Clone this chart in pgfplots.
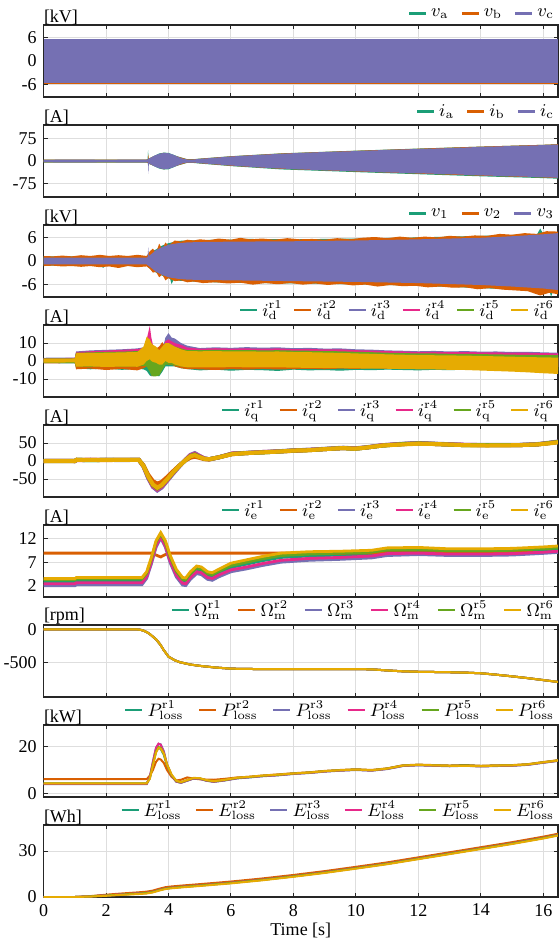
\documentclass[border=0pt]{standalone}
\usepackage[no-math]{fontspec}
\setmainfont{Liberation Serif}
\usepackage{pgfplots}
\pgfplotsset{compat=1.18}
\usepackage{pgfplotstable}
\usepgfplotslibrary{fillbetween}

\definecolor{c1}{HTML}{1B9E77}
\definecolor{c2}{HTML}{D95F02}
\definecolor{c3}{HTML}{7570B3}
\definecolor{c4}{HTML}{E7298A}
\definecolor{c5}{HTML}{66A61E}
\definecolor{c6}{HTML}{E6AB02}

\newcommand{\fs}{\fontsize{9}{10}\selectfont}

\pgfplotsset{
  panel/.style={
    width=257.2pt, height=36pt, scale only axis,
    xmin=0, xmax=16.47,
    xtick={0,2,4,6,8,10,12,14,16},
    xticklabels={},
    grid=major,
    major grid style={line width=0.5pt, draw=black!13},
    tick align=inside,
    major tick length=2.2pt,
    tick style={black!85, line width=0.5pt},
    axis line style={black!85, line width=0.6pt},
    tick label style={font=\fs},
    legend style={draw=none, fill=none, at={(1,1)}, anchor=south east,
      inner sep=0pt, outer sep=0pt, font=\fs, yshift=1pt},
    legend columns=-1,
    legend image code/.code={\draw[##1, line width=1.2pt] (0pt,0pt) -- (8.5pt,0pt);},
  },
  sep/.style={legend style={/tikz/every even column/.append style={column sep=#1}}},
}

% ---------------- data ----------------
\pgfplotstableread{
t gu gl ou ol pu pl ku kl hu hl yu yl
0 1.3 -1.2 1.2 -1.3 1.8 -0.6 1.6 -0.6 1.4 -1.0 1.3 -0.9
1.0 1.4 -1.3 1.3 -1.2 1.9 -0.5 1.7 -0.6 1.5 -1.1 1.4 -0.8
1.04 4.0 -4.0 3.8 -4.6 5.3 -1.8 5.0 -1.6 4.6 -3.0 4.3 -3.1
1.5 4.3 -4.6 4.0 -4.2 5.9 -1.6 5.4 -1.5 4.8 -3.2 4.5 -3.0
2.0 4.1 -4.2 4.2 -5.0 6.2 -1.8 5.8 -1.6 5.0 -2.8 4.6 -3.3
2.5 4.5 -4.9 4.1 -4.4 6.5 -1.5 6.2 -1.7 5.2 -3.1 4.8 -3.1
3.0 4.6 -4.5 4.4 -5.2 7.0 -1.8 6.6 -1.6 5.5 -3.0 5.0 -3.2
3.2 5.0 -4.6 4.8 -4.0 7.6 -1.5 7.2 -1.4 6.0 -2.8 8.0 -2.0
3.3 6.5 -5.5 6.0 -3.0 11.0 0.0 12.0 0.5 9.0 -3.0 13.5 0.0
3.4 6.0 -8.0 7.0 -3.0 10.0 -4.0 19.5 -2.0 8.0 -6.0 12.0 1.0
3.45 5.0 -8.5 8.0 -2.0 9.0 -6.0 13.0 -8.0 7.0 -8.0 10.0 0.0
3.5 4.0 -8.0 8.5 -1.5 7.0 -6.5 9.0 -8.5 5.0 -8.5 9.0 -0.5
3.6 2.0 -8.2 7.0 -1.0 4.0 -6.0 6.0 -6.0 3.0 -8.5 8.0 -1.0
3.7 0.0 -8.5 8.0 1.0 0.0 -5.0 2.0 -4.0 2.0 -8.0 6.0 -2.0
3.8 3.0 -6.0 10.5 2.0 6.0 -3.0 6.0 -3.0 4.0 -5.0 8.0 -2.0
3.9 8.0 -3.0 8.0 0.0 13.0 0.0 11.0 0.0 9.0 -2.0 10.0 0.0
4.0 9.0 -3.0 7.0 -2.0 15.5 1.0 12.0 0.0 10.0 -2.0 10.0 -1.0
4.1 8.0 -3.0 6.0 -2.0 13.0 0.0 11.0 0.0 9.0 -2.0 9.0 -1.0
4.2 7.0 -3.0 8.0 -3.0 12.5 -1.0 10.0 -1.0 8.0 -2.5 8.0 -2.0
4.4 5.5 -4.0 5.0 -4.0 10.0 -2.0 9.0 -2.0 7.0 -3.0 6.5 -3.0
4.6 4.5 -4.5 4.0 -4.5 8.5 -2.0 7.5 -2.0 6.0 -3.5 5.5 -3.5
5.0 4.2 -5.2 4.3 -4.6 7.2 -1.6 6.8 -1.8 6.0 -3.2 5.4 -3.5
5.5 4.5 -4.8 4.0 -5.0 7.6 -1.8 7.1 -1.6 6.2 -3.0 5.5 -3.6
6.0 4.3 -5.4 4.2 -4.5 7.3 -1.7 6.9 -1.8 6.0 -3.2 5.3 -3.4
6.5 4.4 -4.9 4.0 -4.8 7.7 -1.6 7.0 -1.7 6.1 -3.1 5.4 -3.5
7.0 4.2 -5.1 4.1 -4.4 7.4 -1.8 6.8 -1.6 5.9 -3.3 5.2 -3.6
7.5 4.3 -5.5 3.9 -4.7 7.6 -1.7 7.0 -1.8 6.0 -3.2 5.3 -3.5
8.0 4.1 -4.8 4.0 -4.5 7.1 -1.9 6.6 -1.7 5.8 -3.4 5.0 -3.7
8.5 4.0 -5.2 3.8 -4.3 7.3 -1.8 6.7 -1.8 5.7 -3.3 4.9 -3.8
9.0 3.9 -5.0 3.9 -4.6 6.9 -2.0 6.4 -1.9 5.5 -3.5 4.7 -3.9
9.5 3.8 -5.4 3.7 -4.2 7.0 -1.9 6.5 -2.0 5.4 -3.4 4.5 -4.0
10.0 3.6 -4.9 3.6 -4.4 6.5 -2.1 6.0 -2.0 5.1 -3.6 4.2 -4.1
10.5 3.5 -5.1 3.5 -4.0 6.3 -2.2 5.8 -2.1 4.9 -3.7 4.0 -4.3
11.0 3.3 -4.8 3.4 -4.3 5.9 -2.3 5.5 -2.2 4.6 -3.8 3.7 -4.3
11.5 3.2 -5.0 3.2 -3.9 5.7 -2.4 5.3 -2.3 4.4 -3.9 3.5 -4.5
12.0 3.1 -5.2 3.1 -4.0 5.4 -2.5 5.0 -2.4 4.2 -4.0 3.3 -4.6
12.5 3.0 -4.9 3.0 -3.8 5.6 -2.4 5.1 -2.5 4.2 -4.1 3.2 -4.7
13.0 2.9 -5.1 2.9 -3.9 5.3 -2.6 4.9 -2.5 4.0 -4.2 3.1 -4.9
13.5 2.8 -4.8 2.8 -3.6 5.5 -2.6 5.0 -2.6 4.0 -4.3 3.0 -5.0
14.0 2.7 -5.0 2.7 -3.7 5.2 -2.8 4.8 -2.7 3.8 -4.4 2.8 -5.3
14.5 2.6 -4.9 2.6 -3.5 5.3 -2.9 4.8 -2.8 3.7 -4.6 2.6 -5.6
15.0 2.5 -5.1 2.5 -3.6 5.0 -3.0 4.6 -2.9 3.5 -4.7 2.4 -5.9
15.5 2.4 -5.0 2.4 -3.4 5.1 -3.1 4.6 -3.0 3.4 -4.9 2.2 -6.3
16.0 2.3 -5.2 2.3 -3.5 4.8 -3.2 4.4 -3.1 3.3 -5.1 2.0 -6.8
16.47 2.2 -5.3 2.2 -3.4 4.6 -3.3 4.2 -3.2 3.2 -5.3 1.9 -7.2
}\Tid

\pgfplotstableread{
t r1 r2 r3 r4 r5 r6
0 0 0 0 0 0 0
0.5 0.5 -0.3 0.4 0.2 -0.2 0.3
1.0 0 0 0 0 0 0
1.06 3 3.5 3 2.5 3 3.5
1.5 2.5 3 3.5 3 2.5 3
2.0 3 2.5 3 3.5 3 2.8
2.5 2.8 3.2 2.6 3 3.3 3
3.05 3 3 3 3 3 3
3.2 -14 -12 -16 -15 -14 -14
3.35 -44 -38 -48 -46 -44 -43
3.5 -66 -56 -72 -70 -67 -65
3.64 -73 -63 -82 -79 -76 -74
3.78 -66 -58 -74 -71 -68 -67
3.95 -50 -45 -56 -54 -52 -51
4.15 -31 -28 -35 -33 -32 -31
4.35 -13 -12 -15 -14 -13 -13
4.55 3 2 4 4 3 3
4.7 13 9 17 16 14 13
4.84 17 12 22 20 18 16
4.98 12 9 15 14 12 11
5.15 7 5 7 7 6 6
5.3 5 4 5 5 5 5
5.6 10 10 10 10 10 10
6.04 20 19 20 21 20 19
6.5 22 22 23 22 22 22
7.0 24 24 25 25 24 24
7.5 26 27 27 26 26 26
8.0 29 28 30 29 29 29
8.5 31 30 31 31 30 30
9.0 33 33 34 33 33 33
9.6 36 36 37 36 36 36
9.95 34 34 35 35 34 34
10.3 37 37 38 37 37 37
10.85 43 43 44 44 43 43
11.5 47 47 48 47 47 46
12.0 49 49 50 49 49 48
12.6 47 47 48 47 47 47
13.5 44 44 45 45 44 44
14.2 44 44 45 44 44 43
15.2 44 44 45 44 44 44
15.8 46 46 47 46 46 46
16.2 50 50 51 50 50 49
16.47 53 53 54 53 53 52
}\Tiq

\pgfplotstableread{
t r1 r2 r3 r4 r5 r6
0 2.95 8.9 2.05 2.5 3.3 3.55
1.0 2.95 8.9 2.05 2.5 3.3 3.55
1.05 3.15 8.9 2.25 2.7 3.5 3.8
3.15 3.15 8.9 2.3 2.7 3.5 3.8
3.3 4.4 8.9 3.6 4.0 4.7 5.0
3.45 7.4 8.9 6.6 7.0 7.7 8.0
3.6 10.9 8.5 10.1 10.5 11.2 11.5
3.75 12.6 8.1 12.1 12.3 12.9 13.2
3.9 10.8 8.6 10.1 10.4 11.1 11.5
4.05 7.7 8.9 6.9 7.3 8.1 8.5
4.25 4.7 8.9 3.9 4.3 5.1 5.5
4.45 3.0 8.9 2.2 2.6 3.4 3.8
4.55 2.9 8.9 2.1 2.5 3.3 3.7
4.7 4.2 8.9 3.4 3.8 4.6 5.0
4.9 5.4 8.9 4.6 5.0 5.8 6.2
5.05 5.2 8.9 4.4 4.8 5.6 6.0
5.25 4.2 8.9 3.4 3.8 4.6 5.0
5.4 4.0 8.9 3.2 3.6 4.4 4.8
5.6 4.7 8.9 3.9 4.3 5.1 5.5
6.0 5.9 8.9 5.0 5.4 6.3 6.8
6.5 6.6 8.9 5.6 6.0 7.0 7.5
7.0 7.3 8.9 6.3 6.7 7.7 8.2
7.6 8.0 8.9 7.0 7.4 8.4 8.9
8.5 8.3 8.9 7.4 7.8 8.7 9.2
9.5 8.5 8.9 7.6 8.0 8.9 9.3
10.5 8.7 8.95 7.9 8.3 9.1 9.5
11.0 9.2 9.0 8.4 8.8 9.6 10.0
12.0 9.3 9.0 8.6 8.9 9.7 10.1
13.0 9.1 9.0 8.4 8.7 9.4 9.8
14.0 9.1 9.0 8.4 8.7 9.4 9.8
15.0 9.2 9.0 8.5 8.8 9.5 9.9
16.0 9.5 9.05 8.85 9.1 9.8 10.2
16.47 9.7 9.1 9.05 9.3 10.0 10.4
}\Tie

\pgfplotstableread{
t w
0 0
3.0 0
3.1 -5
3.2 -18
3.3 -40
3.4 -70
3.5 -110
3.62 -160
3.75 -240
3.84 -310
4.0 -415
4.2 -470
4.37 -500
4.7 -535
5.0 -555
5.5 -580
6.0 -598
7 -605
8 -606
9 -606
10 -604
10.5 -608
11 -625
11.5 -638
12 -645
13 -652
13.6 -660
14 -668
14.5 -690
15 -715
15.5 -742
16 -772
16.47 -800
}\Tw

\pgfplotstableread{
t g o p k h y
0 4.1 6.1 3.9 4.0 4.2 4.3
3.3 4.1 6.1 3.9 4.0 4.2 4.3
3.4 6.5 7.5 6.8 6.9 6.4 6.2
3.5 12.5 10 13.5 13.5 12.5 12
3.6 18 13.5 19.5 19.5 18 17.5
3.68 19.5 14.8 21.2 21.3 19.8 19.5
3.75 19 14.5 21 20.8 19.5 19.2
3.85 16.5 13 18 17.5 17 17
3.95 12 10 12.5 12.3 12.2 12.5
4.1 7.5 7 7.6 7.5 7.7 8
4.25 5.0 5.5 5.0 5.0 5.2 5.4
4.4 4.6 5.8 4.5 4.6 4.7 4.8
4.6 5.5 6.8 5.4 5.5 5.6 5.7
4.8 6.4 6.3 6.3 6.4 6.5 6.6
5.0 6.3 6.0 6.2 6.3 6.4 6.5
5.2 5.5 5.9 5.4 5.5 5.6 5.7
5.45 5.0 5.8 4.9 5.0 5.1 5.2
5.8 5.6 6.2 5.5 5.6 5.7 5.8
6.2 6.5 6.8 6.4 6.5 6.6 6.7
6.6 6.9 7.1 6.8 7.0 7.0 7.1
7.0 7.4 7.6 7.3 7.4 7.5 7.6
7.5 7.8 8.1 7.7 7.8 7.9 8.0
8.0 8.4 8.6 8.3 8.4 8.5 8.5
8.5 8.8 9.0 8.7 8.8 8.9 8.9
9.0 9.4 9.6 9.3 9.4 9.5 9.5
9.5 9.8 10.0 9.7 9.8 9.9 9.9
10.0 10.1 10.3 10.0 10.1 10.2 10.2
10.5 9.8 10.0 9.7 9.8 9.9 9.9
11.0 10.5 10.7 10.4 10.5 10.6 10.6
11.5 11.8 12.0 11.7 11.8 11.9 11.9
12.0 12.1 12.3 12.0 12.1 12.2 12.2
12.5 11.9 12.1 11.8 11.9 12.0 12.0
13.0 11.7 11.9 11.6 11.7 11.8 11.8
13.5 11.9 12.1 11.8 11.9 12.0 11.8
14.0 11.6 11.8 11.5 11.6 11.7 11.6
14.5 11.8 12.0 11.7 11.8 11.9 11.9
15.0 11.9 12.1 11.8 11.9 12.0 12.0
15.5 12.3 12.5 12.2 12.3 12.4 12.4
16.0 13.2 13.4 13.1 13.2 13.3 13.3
16.47 14.0 14.2 13.9 14.0 14.1 14.1
}\Tp

\pgfplotstableread{
t g o p k h y
0 0 0 0 0 0 0
1.0 0 0 0 0 0 0
1.5 0.4 0.6 0.4 0.4 0.4 0.3
2 1.2 1.5 1.0 1.1 1.0 0.8
2.5 1.8 2.3 1.6 1.7 1.6 1.4
3 2.5 3.0 2.2 2.3 2.2 1.9
3.3 2.9 3.5 2.6 2.7 2.6 2.3
3.5 3.6 4.2 3.3 3.4 3.3 3.0
3.7 4.8 5.4 4.5 4.6 4.5 4.2
3.9 5.8 6.4 5.5 5.6 5.5 5.2
4.1 6.3 6.9 6.0 6.1 6.0 5.7
4.5 7.0 7.6 6.7 6.8 6.7 6.4
5 7.8 8.4 7.5 7.6 7.5 7.2
6 9.5 10.1 9.2 9.3 9.2 8.9
7 11.5 12.1 11.2 11.3 11.2 10.9
8 13.8 14.4 13.5 13.6 13.5 13.2
9 16.3 16.9 16.0 16.1 16.0 15.7
10 19.1 19.7 18.8 18.9 18.8 18.5
11 22.0 22.6 21.7 21.8 21.7 21.4
12 25.3 25.9 25.0 25.1 25.0 24.7
13 28.6 29.2 28.3 28.4 28.3 28.0
14 31.9 32.5 31.6 31.7 31.6 31.3
15 35.2 35.8 34.9 35.0 34.9 34.6
16 38.8 39.4 38.5 38.6 38.5 38.2
16.47 40.7 41.3 40.4 40.5 40.4 40.1
}\Te

\begin{document}
\begin{tikzpicture}

% ---------- 1: v_abc ----------
\begin{axis}[panel, sep=4pt, name=ax1, at={(0pt,0pt)}, anchor=north west,
  ymin=-9.3, ymax=9.3, ytick={-6,0,6}, yticklabels={-6,0,6}]
\addplot[fill=c1, draw=none, forget plot] coordinates {(0,5.78)(16.47,5.78)(16.47,-5.78)(0,-5.78)};
\addplot[fill=c2, draw=none, forget plot] coordinates {(0,5.8)(16.47,5.8)(16.47,-5.85)(0,-5.85)};
\addplot[fill=c3, draw=none, forget plot] coordinates {(0,5.75)(16.47,5.75)(16.47,-5.75)(0,-5.75)};
\addlegendimage{c1}\addlegendentry{$v_\mathrm{a}$}
\addlegendimage{c2}\addlegendentry{$v_\mathrm{b}$}
\addlegendimage{c3}\addlegendentry{$v_\mathrm{c}$}
\end{axis}
\node[anchor=south west, inner sep=0pt, font=\fs] at (ax1.north west) {[kV]};

% ---------- 2: i_abc ----------
\begin{axis}[panel, sep=4pt, name=ax2, at={(0pt,-50pt)}, anchor=north west,
  ymin=-120, ymax=120, ytick={-75,0,75}, yticklabels={-75,0,75}]
\addplot[fill=c1, draw=none, forget plot] coordinates {(0,5)(3.3,5)(3.33,6)(3.345,36)(3.36,8)(3.45,12.5)(3.7,25)(3.85,28)(4.0,27)(4.3,15)(4.6,6)(4.8,6)(5,8)(6,16)(7.6,25.5)(10,34.5)(12,41.5)(14,48)(16,54)(16.47,56)
(16.47,-59)(16,-57)(14,-51)(12,-44)(10,-37)(8,-29.5)(7.6,-28)(6,-17)(5,-8.5)(4.8,-6.5)(4.6,-6)(4.3,-15)(4.0,-27.5)(3.85,-28.5)(3.7,-25)(3.45,-13)(3.36,-9)(3.3,-5)(0,-5)};
\addplot[fill=c2, draw=none, forget plot] coordinates {(0,4.8)(3.3,4.8)(3.35,6)(3.36,22)(3.375,7)(3.45,12.5)(3.85,27.5)(4.3,14.5)(4.6,5.5)(4.8,5.5)(5,7.5)(6,15.5)(7.6,25)(10,34)(12,41)(14,48)(16,54)(16.47,56)
(16.47,-57)(16,-55)(14,-49)(12,-42)(10,-35)(7.6,-26)(6,-16)(5,-7.5)(4.8,-5.5)(4.6,-5.5)(4.3,-14.5)(3.85,-27.5)(3.45,-12.5)(3.36,-8)(3.3,-4.8)(0,-4.8)};
\addplot[fill=c3, draw=none, forget plot] coordinates {(0,4)(1,4.5)(2,4)(3,4.5)(3.32,4.5)(3.36,8)(3.45,12)(3.55,18)(3.7,24)(3.85,27)(4.0,26)(4.15,21)(4.3,14)(4.45,8)(4.6,5)(4.8,5)(5.0,7)(5.5,11)(6,15)(7,21)(7.6,24)(8,26)(9,30)(10,33)(11,37)(12,40)(13,43)(14,47)(15,50)(16,53)(16.47,55)
(16.47,-56)(16,-54)(15,-51)(14,-48)(13,-44)(12,-41)(11,-38)(10,-34)(9,-31)(8,-27)(7.6,-25)(7,-22)(6,-15)(5.5,-11)(5.0,-7)(4.8,-5)(4.6,-5)(4.45,-8)(4.3,-14)(4.15,-21)(4.0,-26)(3.85,-27)(3.7,-24)(3.55,-18)(3.45,-12)(3.37,-8)(3.355,-43)(3.34,-5)(3.32,-4.5)(3,-4.5)(2,-4)(1,-4.5)(0,-4)};
\addlegendimage{c1}\addlegendentry{$i_\mathrm{a}$}
\addlegendimage{c2}\addlegendentry{$i_\mathrm{b}$}
\addlegendimage{c3}\addlegendentry{$i_\mathrm{c}$}
\end{axis}
\node[anchor=south west, inner sep=0pt, font=\fs] at (ax2.north west) {[A]};

% ---------- 3: v_123 ----------
\begin{axis}[panel, sep=4pt, name=ax3, at={(0pt,-100pt)}, anchor=north west,
  ymin=-9.3, ymax=9.3, ytick={-6,0,6}, yticklabels={-6,0,6}]
\addplot[fill=c1, draw=none, forget plot] coordinates {(0,1.2)(3.3,1.2)(3.4,2.2)(3.6,3)(3.8,4)(4.0,4.6)(4.3,5.2)(4.6,5.3)(5,5.4)(6,5.5)(6.5,5.7)(8,5.6)(10,5.8)(12,6.1)(14,6.5)(15.8,6.9)(15.9,8.4)(16.0,7.0)(16.47,7.4)
(16.47,-8)(16.3,-7.9)(16.25,-9.3)(16.2,-7.8)(14,-7)(12,-6.4)(10,-6.0)(8,-5.8)(6,-5.6)(5,-5.4)(4.15,-5.0)(4.1,-6.0)(4.05,-4.6)(3.8,-3.8)(3.6,-3.0)(3.4,-2)(3.3,-1.2)(2,-1.2)(1.9,-1.8)(1.85,-1.2)(0,-1.2)};
\addplot[fill=c2, draw=none, forget plot] coordinates {(0,1.3)(0.3,1.2)(0.6,1.4)(0.9,1.2)(1.2,1.5)(1.5,1.3)(1.8,1.6)(2.1,1.3)(2.4,1.5)(2.7,1.3)(3.0,1.6)(3.3,1.3)(3.4,2.5)(3.5,3.2)(3.6,2.0)(3.7,4.5)(3.8,3.0)(3.9,4.8)(4.0,4.0)(4.2,5.3)(4.4,5.0)(4.6,5.5)(4.8,5.3)(5.0,5.6)(5.3,5.4)(5.6,5.8)(6.0,5.5)(6.3,6.0)(6.6,5.6)(7.0,5.8)(7.4,5.5)(7.8,5.9)(8.2,5.6)(8.6,5.7)(9.0,5.5)(9.4,5.9)(9.8,5.6)(10.2,6.0)(10.6,6.2)(11.0,5.9)(11.4,6.3)(11.8,6.0)(12.2,6.3)(12.6,6.1)(13.0,6.5)(13.4,6.3)(13.8,6.6)(14.2,6.5)(14.6,7.0)(15.0,6.8)(15.4,7.2)(15.8,7.0)(16.1,7.7)(16.47,7.6)
(16.47,-8.6)(16.2,-8.2)(15.9,-8.9)(15.5,-7.8)(15.1,-7.6)(14.7,-7.4)(14.3,-7.0)(13.9,-7.3)(13.5,-6.8)(13.1,-6.9)(12.7,-6.6)(12.3,-6.8)(11.9,-6.4)(11.5,-6.5)(11.1,-6.2)(10.7,-6.6)(10.3,-6.1)(9.9,-6.3)(9.5,-5.9)(9.1,-6.2)(8.7,-5.8)(8.3,-6.1)(7.9,-5.7)(7.5,-6.0)(7.1,-5.7)(6.7,-6.1)(6.3,-5.6)(5.9,-5.8)(5.5,-5.5)(5.1,-5.7)(4.8,-5.3)(4.6,-5.5)(4.4,-5.0)(4.2,-5.2)(4.0,-4.4)(3.9,-5.0)(3.8,-3.5)(3.7,-4.2)(3.6,-2.8)(3.5,-3.0)(3.4,-2.0)(3.3,-1.4)(3.0,-1.6)(2.7,-1.3)(2.4,-1.8)(2.1,-1.4)(1.8,-1.6)(1.5,-1.3)(1.2,-1.5)(0.9,-1.3)(0.6,-1.4)(0.3,-1.2)(0,-1.3)};
\addplot[fill=c3, draw=none, forget plot] coordinates {(0,0.9)(3.3,0.9)(3.33,1)(3.35,3.5)(3.37,1.3)(3.45,1.8)(3.6,2.8)(3.8,3.6)(4.0,4.2)(4.3,4.6)(4.6,4.8)(5,4.9)(6,5.0)(8,5.1)(10,5.3)(12,5.6)(14,6.0)(15,6.4)(16,6.9)(16.47,7.2)
(16.47,-7.5)(16,-7.1)(15,-6.6)(14,-6.2)(12,-5.7)(10,-5.4)(8,-5.2)(6,-5.0)(5,-4.9)(4.6,-4.8)(4.3,-4.6)(4.0,-4.2)(3.8,-3.6)(3.6,-2.8)(3.45,-1.8)(3.37,-1.3)(3.3,-0.9)(0,-0.9)};
\addlegendimage{c1}\addlegendentry{$v_1$}
\addlegendimage{c2}\addlegendentry{$v_2$}
\addlegendimage{c3}\addlegendentry{$v_3$}
\end{axis}
\node[anchor=south west, inner sep=0pt, font=\fs] at (ax3.north west) {[kV]};

% ---------- 4: i_d ----------
\begin{axis}[panel, sep=3.2pt, name=ax4, at={(0pt,-150pt)}, anchor=north west,
  ymin=-20, ymax=20, ytick={-10,0,10}, yticklabels={-10,0,10}]
\addplot[draw=none, name path=gu, forget plot] table[x=t,y=gu]{\Tid};
\addplot[draw=none, name path=gl, forget plot] table[x=t,y=gl]{\Tid};
\addplot[fill=c1, draw=none, forget plot] fill between[of=gu and gl];
\addplot[draw=none, name path=ou, forget plot] table[x=t,y=ou]{\Tid};
\addplot[draw=none, name path=ol, forget plot] table[x=t,y=ol]{\Tid};
\addplot[fill=c2, draw=none, forget plot] fill between[of=ou and ol];
\addplot[draw=none, name path=pu, forget plot] table[x=t,y=pu]{\Tid};
\addplot[draw=none, name path=pl, forget plot] table[x=t,y=pl]{\Tid};
\addplot[fill=c3, draw=none, forget plot] fill between[of=pu and pl];
\addplot[draw=none, name path=ku, forget plot] table[x=t,y=ku]{\Tid};
\addplot[draw=none, name path=kl, forget plot] table[x=t,y=kl]{\Tid};
\addplot[fill=c4, draw=none, forget plot] fill between[of=ku and kl];
\addplot[draw=none, name path=hu, forget plot] table[x=t,y=hu]{\Tid};
\addplot[draw=none, name path=hl, forget plot] table[x=t,y=hl]{\Tid};
\addplot[fill=c5, draw=none, forget plot] fill between[of=hu and hl];
\addplot[draw=none, name path=yu, forget plot] table[x=t,y=yu]{\Tid};
\addplot[draw=none, name path=yl, forget plot] table[x=t,y=yl]{\Tid};
\addplot[fill=c6, draw=none, forget plot] fill between[of=yu and yl];
\addlegendimage{c1}\addlegendentry{$i_\mathrm{d}^\mathrm{r1}$}
\addlegendimage{c2}\addlegendentry{$i_\mathrm{d}^\mathrm{r2}$}
\addlegendimage{c3}\addlegendentry{$i_\mathrm{d}^\mathrm{r3}$}
\addlegendimage{c4}\addlegendentry{$i_\mathrm{d}^\mathrm{r4}$}
\addlegendimage{c5}\addlegendentry{$i_\mathrm{d}^\mathrm{r5}$}
\addlegendimage{c6}\addlegendentry{$i_\mathrm{d}^\mathrm{r6}$}
\end{axis}
\node[anchor=south west, inner sep=0pt, font=\fs] at (ax4.north west) {[A]};

% ---------- 5: i_q ----------
\begin{axis}[panel, sep=5pt, name=ax5, at={(0pt,-200pt)}, anchor=north west,
  ymin=-100, ymax=100, ytick={-50,0,50}, yticklabels={-50,0,50}]
\addplot[c1, line width=2pt, forget plot] table[x=t,y=r1]{\Tiq};
\addplot[c2, line width=2pt, forget plot] table[x=t,y=r2]{\Tiq};
\addplot[c3, line width=2pt, forget plot] table[x=t,y=r3]{\Tiq};
\addplot[c4, line width=2pt, forget plot] table[x=t,y=r4]{\Tiq};
\addplot[c5, line width=2pt, forget plot] table[x=t,y=r5]{\Tiq};
\addplot[c6, line width=2pt, forget plot] table[x=t,y=r6]{\Tiq};
\addlegendimage{c1}\addlegendentry{$i_\mathrm{q}^\mathrm{r1}$}
\addlegendimage{c2}\addlegendentry{$i_\mathrm{q}^\mathrm{r2}$}
\addlegendimage{c3}\addlegendentry{$i_\mathrm{q}^\mathrm{r3}$}
\addlegendimage{c4}\addlegendentry{$i_\mathrm{q}^\mathrm{r4}$}
\addlegendimage{c5}\addlegendentry{$i_\mathrm{q}^\mathrm{r5}$}
\addlegendimage{c6}\addlegendentry{$i_\mathrm{q}^\mathrm{r6}$}
\end{axis}
\node[anchor=south west, inner sep=0pt, font=\fs] at (ax5.north west) {[A]};

% ---------- 6: i_e ----------
\begin{axis}[panel, sep=5pt, name=ax6, at={(0pt,-250pt)}, anchor=north west,
  ymin=-0.3, ymax=14.8, ytick={2,7,12}, yticklabels={2,7,12}]
\addplot[c1, line width=1.4pt, forget plot] table[x=t,y=r1]{\Tie};
\addplot[c2, line width=1.4pt, forget plot] table[x=t,y=r2]{\Tie};
\addplot[c3, line width=1.4pt, forget plot] table[x=t,y=r3]{\Tie};
\addplot[c4, line width=1.4pt, forget plot] table[x=t,y=r4]{\Tie};
\addplot[c5, line width=1.4pt, forget plot] table[x=t,y=r5]{\Tie};
\addplot[c6, line width=1.4pt, forget plot] table[x=t,y=r6]{\Tie};
\addlegendimage{c1}\addlegendentry{$i_\mathrm{e}^\mathrm{r1}$}
\addlegendimage{c2}\addlegendentry{$i_\mathrm{e}^\mathrm{r2}$}
\addlegendimage{c3}\addlegendentry{$i_\mathrm{e}^\mathrm{r3}$}
\addlegendimage{c4}\addlegendentry{$i_\mathrm{e}^\mathrm{r4}$}
\addlegendimage{c5}\addlegendentry{$i_\mathrm{e}^\mathrm{r5}$}
\addlegendimage{c6}\addlegendentry{$i_\mathrm{e}^\mathrm{r6}$}
\end{axis}
\node[anchor=south west, inner sep=0pt, font=\fs] at (ax6.north west) {[A]};

% ---------- 7: Omega ----------
\begin{axis}[panel, sep=5.8pt, name=ax7, at={(0pt,-300pt)}, anchor=north west,
  ymin=-1030, ymax=68, ytick={-500,0}, yticklabels={-500,0}]
\addplot[c1, line width=1pt, forget plot] table[x=t,y=w]{\Tw};
\addplot[c2, line width=1pt, forget plot] table[x=t,y=w]{\Tw};
\addplot[c3, line width=1pt, forget plot] table[x=t,y=w]{\Tw};
\addplot[c4, line width=1pt, forget plot] table[x=t,y=w]{\Tw};
\addplot[c5, line width=1pt, forget plot] table[x=t,y=w]{\Tw};
\addplot[c6, line width=1pt, forget plot] table[x=t,y=w]{\Tw};
\addlegendimage{c1}\addlegendentry{$\Omega_\mathrm{m}^\mathrm{r1}$}
\addlegendimage{c2}\addlegendentry{$\Omega_\mathrm{m}^\mathrm{r2}$}
\addlegendimage{c3}\addlegendentry{$\Omega_\mathrm{m}^\mathrm{r3}$}
\addlegendimage{c4}\addlegendentry{$\Omega_\mathrm{m}^\mathrm{r4}$}
\addlegendimage{c5}\addlegendentry{$\Omega_\mathrm{m}^\mathrm{r5}$}
\addlegendimage{c6}\addlegendentry{$\Omega_\mathrm{m}^\mathrm{r6}$}
\end{axis}
\node[anchor=south west, inner sep=0pt, font=\fs] at (ax7.north west) {[rpm]};

% ---------- 8: P_loss ----------
\begin{axis}[panel, sep=5.3pt, name=ax8, at={(0pt,-350pt)}, anchor=north west,
  ymin=-1.6, ymax=29.3, ytick={0,20}, yticklabels={0,20}]
\addplot[c1, line width=1pt, forget plot] table[x=t,y=g]{\Tp};
\addplot[c2, line width=1pt, forget plot] table[x=t,y=o]{\Tp};
\addplot[c3, line width=1pt, forget plot] table[x=t,y=p]{\Tp};
\addplot[c4, line width=1pt, forget plot] table[x=t,y=k]{\Tp};
\addplot[c5, line width=1pt, forget plot] table[x=t,y=h]{\Tp};
\addplot[c6, line width=1pt, forget plot] table[x=t,y=y]{\Tp};
\addlegendimage{c1}\addlegendentry{$P_\mathrm{loss}^\mathrm{r1}$}
\addlegendimage{c2}\addlegendentry{$P_\mathrm{loss}^\mathrm{r2}$}
\addlegendimage{c3}\addlegendentry{$P_\mathrm{loss}^\mathrm{r3}$}
\addlegendimage{c4}\addlegendentry{$P_\mathrm{loss}^\mathrm{r4}$}
\addlegendimage{c5}\addlegendentry{$P_\mathrm{loss}^\mathrm{r5}$}
\addlegendimage{c6}\addlegendentry{$P_\mathrm{loss}^\mathrm{r6}$}
\end{axis}
\node[anchor=south west, inner sep=0pt, font=\fs] at (ax8.north west) {[kW]};

% ---------- 9: E_loss ----------
\begin{axis}[panel, sep=4.6pt, name=ax9, at={(0pt,-400pt)}, anchor=north west,
  ymin=0, ymax=47, ytick={0,30}, yticklabels={0,30},
  xticklabels={0,2,4,6,8,10,12,14,16},
  xlabel={Time [s]}, xlabel style={font=\fs, yshift=3.5pt}]
\addplot[c1, line width=1pt, forget plot] table[x=t,y=g]{\Te};
\addplot[c2, line width=1pt, forget plot] table[x=t,y=o]{\Te};
\addplot[c3, line width=1pt, forget plot] table[x=t,y=p]{\Te};
\addplot[c4, line width=1pt, forget plot] table[x=t,y=k]{\Te};
\addplot[c5, line width=1pt, forget plot] table[x=t,y=h]{\Te};
\addplot[c6, line width=1pt, forget plot] table[x=t,y=y]{\Te};
\addlegendimage{c1}\addlegendentry{$E_\mathrm{loss}^\mathrm{r1}$}
\addlegendimage{c2}\addlegendentry{$E_\mathrm{loss}^\mathrm{r2}$}
\addlegendimage{c3}\addlegendentry{$E_\mathrm{loss}^\mathrm{r3}$}
\addlegendimage{c4}\addlegendentry{$E_\mathrm{loss}^\mathrm{r4}$}
\addlegendimage{c5}\addlegendentry{$E_\mathrm{loss}^\mathrm{r5}$}
\addlegendimage{c6}\addlegendentry{$E_\mathrm{loss}^\mathrm{r6}$}
\end{axis}
\node[anchor=south west, inner sep=0pt, font=\fs] at (ax9.north west) {[Wh]};

\pgfresetboundingbox
\path[use as bounding box] (-21.8pt,12.5pt) rectangle (258.2pt,-459pt);
\end{tikzpicture}
\end{document}
